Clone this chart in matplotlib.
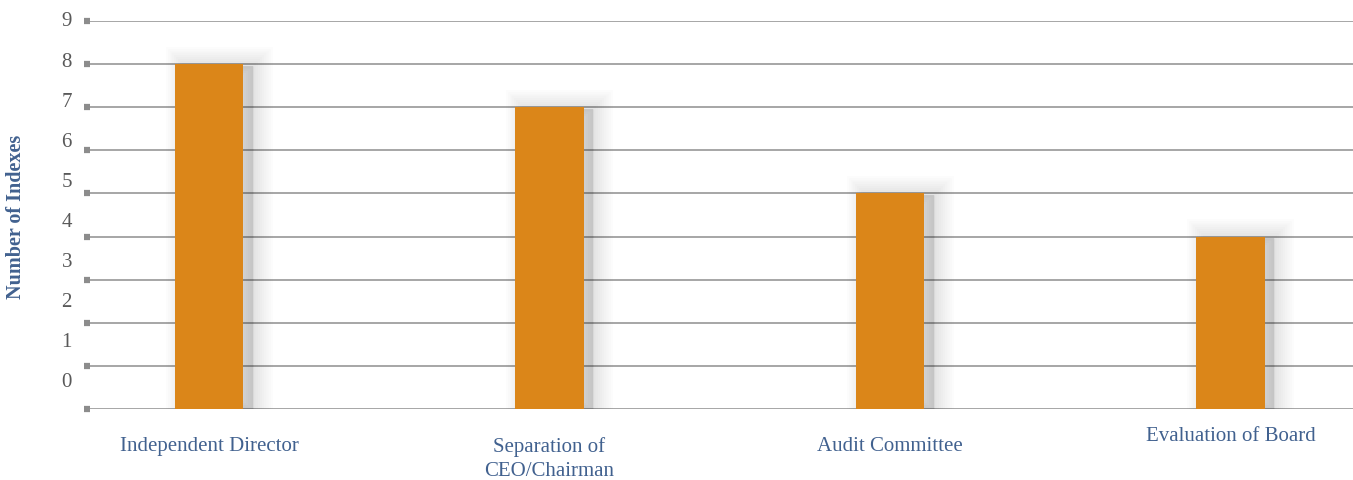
import matplotlib
matplotlib.use("Agg")
import matplotlib.pyplot as plt
import matplotlib.patheffects as pe

categories = ["Independent Director", "Separation of\nCEO/Chairman", "Audit Committee", "Evaluation of Board"]
values = [8, 7, 5, 4]
yticks = list(range(0, 10))

W, H = 1353, 481
fig = plt.figure(figsize=(W / 100, H / 100), dpi=100)
left_px, right_px, top_px, bot_px = 90, 1353, 22, 410
ax = fig.add_axes([left_px / W, (H - bot_px) / H, (right_px - left_px) / W, (bot_px - top_px) / H])

serif = ["Liberation Serif", "DejaVu Serif"]
bar_color = "#DB8619"
grid_color = "#A6A6A6"
tick_color = "#595959"
label_color = "#41618F"

x = list(range(len(categories)))
unit = 340.5
ax.set_xlim(-119 / unit, -119 / unit + (right_px - left_px) / unit)
ax.set_ylim(0, 9)

shadow = []
for w in range(28, 0, -3):
    shadow.append(pe.PathPatchEffect(offset=(7, -1), facecolor="black", edgecolor="black",
                                     linewidth=w, alpha=0.011))
shadow.append(pe.Normal())

bars = ax.bar(x, values, width=0.2, color=bar_color, zorder=3, linewidth=0)
for b in bars:
    b.set_path_effects(shadow)

for v in yticks:
    ax.axhline(v, color=grid_color, lw=1.4, zorder=1)

ax.set_yticks(yticks)
ax.set_yticklabels([])
ax.tick_params(axis="y", length=4, width=4.5, color="#8C8C8C", direction="out", pad=0)
ax.set_xticks([])
for s in ax.spines.values():
    s.set_visible(False)

# tick labels (drawn slightly drifting as in the original)
for v in yticks:
    yp = 9 - (9 - v) * 0.93
    ax.text(-18 / (right_px - left_px), yp, str(v), transform=ax.get_yaxis_transform(),
            ha="right", va="center", fontsize=15, color=tick_color, family=serif)

# category labels (top-aligned)
label_top_px = [437, 437, 437, 427]
for xi, cat, ly in zip(x, categories, label_top_px):
    yd = (bot_px - ly) / (bot_px - top_px) * 9
    ax.text(xi, yd, cat, ha="center", va="top", fontsize=15, color=label_color,
            family=serif, linespacing=1.38)

fig.text(16 / W, 1 - 217 / H, "Number of Indexes", rotation=90, ha="center", va="center",
         fontsize=14.5, fontweight="bold", color=label_color, family=serif)

fig.savefig("out.png", dpi=100)
